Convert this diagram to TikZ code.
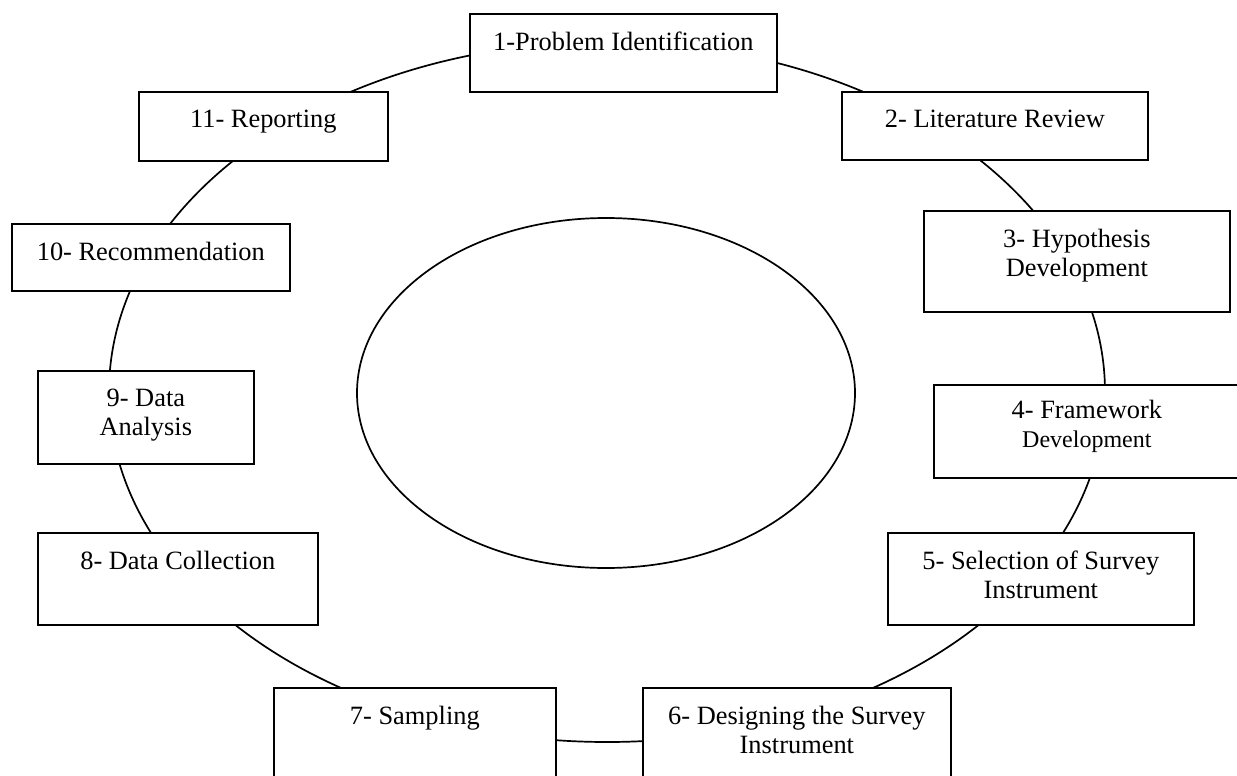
\documentclass[tikz,border=0pt]{standalone}
\usepackage{fontspec}
\setmainfont{Liberation Serif}
\usepackage{tikz}
\usetikzlibrary{positioning}

\begin{document}
\begin{tikzpicture}[x=0.5pt, y=-0.5pt, line width=0.85pt,
    stage/.style={draw, fill=white, inner sep=0pt, anchor=north west},
    stagetext/.style={inner sep=0pt, align=center, font=\fontsize{13.2}{14.5}\selectfont}]

            \useasboundingbox (0,0) rectangle (1237,776);

            % Elipses
            \draw (607,392) ellipse [x radius=249pt, y radius=175pt];
            \draw (606,393) ellipse [x radius=124.5pt, y radius=87.5pt];

            % Cajas (lado derecho)
            \node[stage, minimum width=153.5pt, minimum height=39pt] (S1) at (469,13) {};
            \node[stage, minimum width=153pt, minimum height=34pt] (S2) at (841,91) {};
            \node[stage, minimum width=153pt, minimum height=50.5pt] (S3) at (923,210) {};
            \node[stage, minimum width=153pt, minimum height=46.5pt] (S4) at (933,384) {};
            \node[stage, minimum width=153pt, minimum height=46pt] (S5) at (887,532) {};
            \node[stage, minimum width=154pt, minimum height=52pt] (S6) at (642,687) {};

            % Cajas (lado izquierdo)
            \node[stage, minimum width=141pt, minimum height=52pt] (S7) at (273,687) {};
            \node[stage, minimum width=140pt, minimum height=46pt] (S8) at (37,532) {};
            \node[stage, minimum width=108pt, minimum height=46.5pt] (S9) at (37,370) {};
            \node[stage, minimum width=139pt, minimum height=33.5pt] (S10) at (11,223) {};
            \node[stage, minimum width=124.5pt, minimum height=34.5pt] (S11) at (138,91) {};

            % Textos
            \node[stagetext] (T1) [below=9pt of S1.north] {1-Problem Identification};
            \node[stagetext] (T2) [below=9pt of S2.north] {2- Literature Review};
            \node[stagetext] (T3) [below=9pt of S3.north] {3- Hypothesis\\Development};
            \node[stagetext] (T4) [below=7.5pt of S4.north] {4- Framework\\{\fontsize{12}{14.5}\selectfont Development}};
            \node[stagetext] (T5) [below=9pt of S5.north] {5- Selection of Survey\\Instrument};
            \node[stagetext] (T6) [below=9pt of S6.north] {6- Designing the Survey\\Instrument};
            \node[stagetext] (T7) [below=9pt of S7.north] {7- Sampling};
            \node[stagetext] (T8) [below=9pt of S8.north] {8- Data Collection};
            \node[stagetext] (T9) [below=9pt of S9.north] {9- Data\\Analysis};
            \node[stagetext] (T10) [below=9pt of S10.north] {10- Recommendation};
            \node[stagetext] (T11) [below=9pt of S11.north] {11- Reporting};
        \end{tikzpicture}
\end{document}
